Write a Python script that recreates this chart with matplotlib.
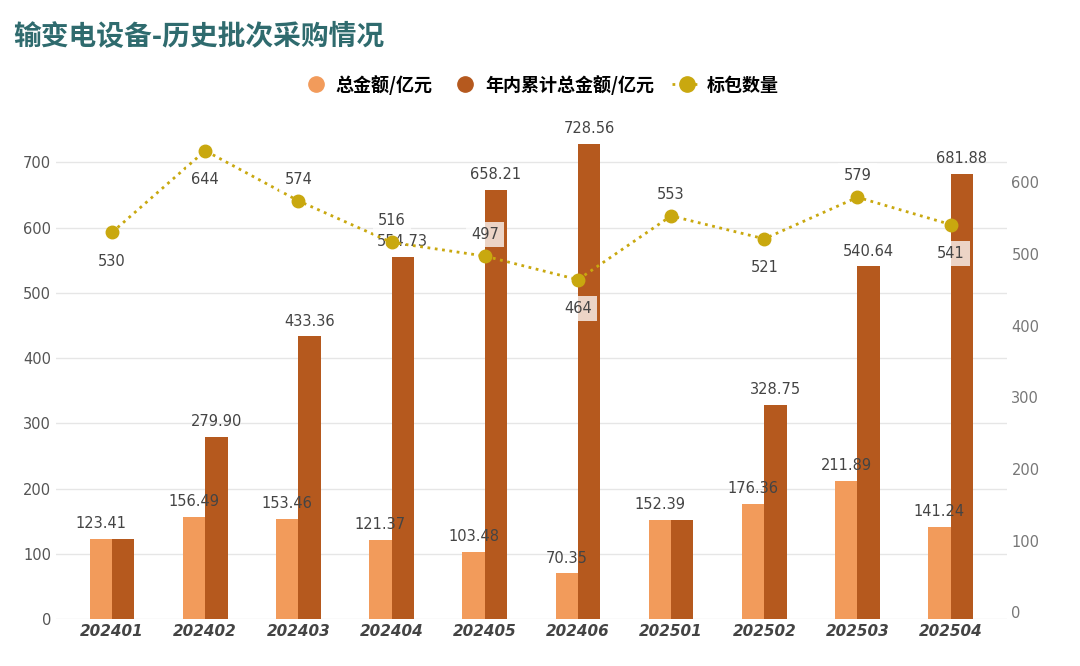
import matplotlib
matplotlib.use("Agg")
import matplotlib.pyplot as plt
import numpy as np
from matplotlib.lines import Line2D

plt.rcParams['font.family'] = ['Noto Sans CJK SC', 'DejaVu Sans']

categories = ['202401','202402','202403','202404','202405','202406','202501','202502','202503','202504']
total = [123.41,156.49,153.46,121.37,103.48,70.35,152.39,176.36,211.89,141.24]
cumulative = [123.41,279.90,433.36,554.73,658.21,728.56,152.39,328.75,540.64,681.88]
counts = [530,644,574,516,497,464,553,521,579,541]
count_above = [False,False,True,True,True,False,True,False,True,False]
show_cum_label = [False,True,True,True,True,True,False,True,True,True]

c_total = '#F29B5B'
c_cum = '#B5591E'
c_line = '#C9A80F'
numfont = 'DejaVu Sans'

fig = plt.figure(figsize=(10.8,6.66), dpi=100)
ax = fig.add_axes([0.052, 0.07, 0.88, 0.75])
x = np.arange(len(categories))
w = 0.24
ax.bar(x - w/2, total, w, color=c_total, zorder=2)
ax.bar(x + w/2, cumulative, w, color=c_cum, zorder=2)
ax.set_ylim(0, 765)
ax.set_xlim(-0.6, 9.6)
ax.set_yticks(range(0, 701, 100))
ax.grid(axis='y', color='#E6E6E6', lw=1, zorder=0)
for s in ax.spines.values():
    s.set_visible(False)
ax.tick_params(length=0, labelsize=10.5, colors='#555555')
for t in ax.get_yticklabels():
    t.set_family(numfont)
ax.set_xticks(x)
ax.set_xticklabels(categories, fontsize=11, fontweight='bold', fontstyle='italic', color='#444444', family=numfont)

for i in range(len(x)):
    ax.text(x[i]-w/2, total[i]+12, f'{total[i]:.2f}', ha='center', va='bottom', fontsize=10.5, color='#444444', family=numfont)
    if show_cum_label[i]:
        ax.text(x[i]+w/2, cumulative[i]+12, f'{cumulative[i]:.2f}', ha='center', va='bottom', fontsize=10.5, color='#444444', family=numfont)

ax2 = ax.twinx()
ax2.set_ylim(-10, 687)
ax2.set_yticks(range(0, 601, 100))
for s in ax2.spines.values():
    s.set_visible(False)
ax2.tick_params(length=0, labelsize=10.5, colors='#777777')
for t in ax2.get_yticklabels():
    t.set_family(numfont)
ax2.plot(x, counts, ':', color=c_line, lw=2, marker='o', ms=9, zorder=5)
for i in range(len(x)):
    off = 30 if count_above[i] else -40
    ax2.text(x[i], counts[i]+off, str(counts[i]), ha='center', va='center', fontsize=10.5, color='#444444', family=numfont,
             bbox=dict(boxstyle='square,pad=0.35', fc='white', ec='none', alpha=0.75), zorder=6)

fig.text(0.012, 0.945, '输变电设备-历史批次采购情况', fontsize=20, fontweight='bold', color='#2F6B6E', va='center')
handles = [Line2D([0],[0], marker='o', color='none', markerfacecolor=c_total, markeredgecolor=c_total, ms=11),
           Line2D([0],[0], marker='o', color='none', markerfacecolor=c_cum, markeredgecolor=c_cum, ms=11),
           Line2D([0],[0], marker='o', color=c_line, ls=':', lw=2, ms=11)]
fig.legend(handles, ['总金额/亿元','年内累计总金额/亿元','标包数量'], loc='center', bbox_to_anchor=(0.5, 0.873),
           ncol=3, frameon=False, handlelength=1.6, columnspacing=1.0, handletextpad=0.3,
           prop={'weight':'bold','size':13})
fig.savefig('out.png', dpi=100)
